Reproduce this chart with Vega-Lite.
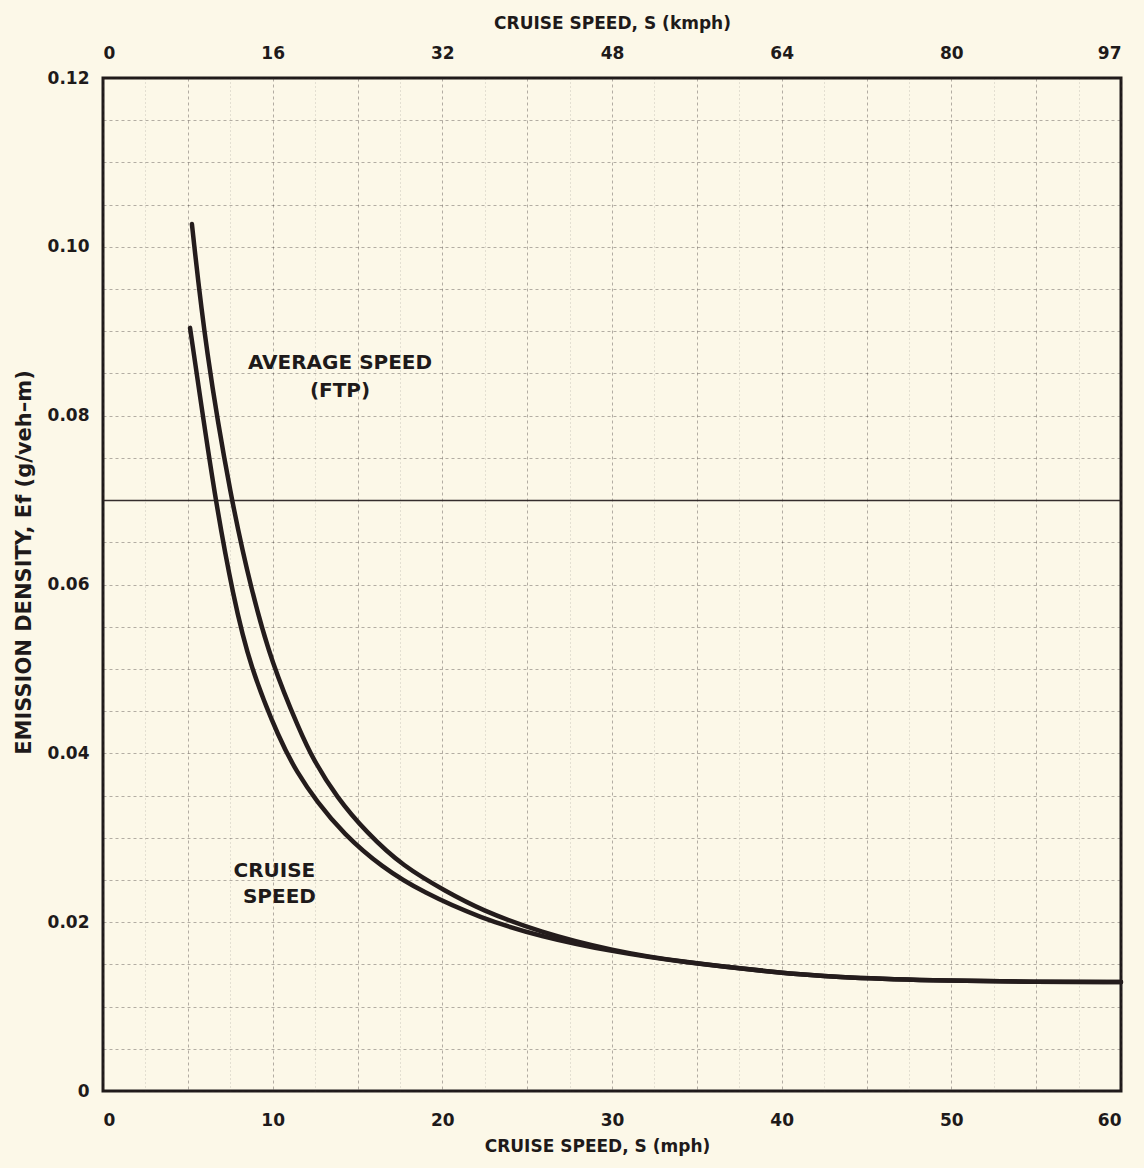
{
  "$schema": "https://vega.github.io/schema/vega-lite/v6.json",
  "width": 1018,
  "height": 1013,
  "autosize": "none",
  "padding": {"left": 103, "top": 78, "right": 23, "bottom": 77},
  "background": "#fcf8e8",
  "config": {
    "view": {"stroke": "#1f1a1a", "strokeWidth": 3},
    "axis": {
      "labelFont": "DejaVu Sans",
      "labelFontWeight": "bold",
      "labelFontSize": 17,
      "labelColor": "#1e1a1a",
      "titleFont": "DejaVu Sans",
      "titleFontWeight": "bold",
      "titleFontSize": 17,
      "titleColor": "#1e1a1a",
      "ticks": false,
      "domain": false
    },
    "text": {"font": "DejaVu Sans", "fontWeight": "bold", "fontSize": 20, "color": "#1e1a1a"}
  },
  "datasets": {
    "curves": [
      {"series": "AVERAGE SPEED (FTP)", "mph": 5.24, "ef": 0.1027},
      {"series": "AVERAGE SPEED (FTP)", "mph": 6.05, "ef": 0.0878},
      {"series": "AVERAGE SPEED (FTP)", "mph": 7.55, "ef": 0.07},
      {"series": "AVERAGE SPEED (FTP)", "mph": 8.76, "ef": 0.0592},
      {"series": "AVERAGE SPEED (FTP)", "mph": 9.94, "ef": 0.0507},
      {"series": "AVERAGE SPEED (FTP)", "mph": 11.61, "ef": 0.0426},
      {"series": "AVERAGE SPEED (FTP)", "mph": 12.38, "ef": 0.0393},
      {"series": "AVERAGE SPEED (FTP)", "mph": 13.77, "ef": 0.0348},
      {"series": "AVERAGE SPEED (FTP)", "mph": 15.54, "ef": 0.0306},
      {"series": "AVERAGE SPEED (FTP)", "mph": 17.68, "ef": 0.0266},
      {"series": "AVERAGE SPEED (FTP)", "mph": 20.26, "ef": 0.0236},
      {"series": "AVERAGE SPEED (FTP)", "mph": 22.22, "ef": 0.0215},
      {"series": "AVERAGE SPEED (FTP)", "mph": 25.76, "ef": 0.0188},
      {"series": "AVERAGE SPEED (FTP)", "mph": 30.06, "ef": 0.0166},
      {"series": "AVERAGE SPEED (FTP)", "mph": 34.0, "ef": 0.0153},
      {"series": "AVERAGE SPEED (FTP)", "mph": 39.9, "ef": 0.014},
      {"series": "AVERAGE SPEED (FTP)", "mph": 43.0, "ef": 0.0135},
      {"series": "AVERAGE SPEED (FTP)", "mph": 48.9, "ef": 0.0131},
      {"series": "AVERAGE SPEED (FTP)", "mph": 55.0, "ef": 0.0129},
      {"series": "AVERAGE SPEED (FTP)", "mph": 60.0, "ef": 0.0129},
      {"series": "CRUISE SPEED", "mph": 5.13, "ef": 0.0904},
      {"series": "CRUISE SPEED", "mph": 5.5, "ef": 0.0853},
      {"series": "CRUISE SPEED", "mph": 6.6, "ef": 0.0702},
      {"series": "CRUISE SPEED", "mph": 7.68, "ef": 0.0585},
      {"series": "CRUISE SPEED", "mph": 8.66, "ef": 0.0503},
      {"series": "CRUISE SPEED", "mph": 10.43, "ef": 0.0415},
      {"series": "CRUISE SPEED", "mph": 11.42, "ef": 0.0378},
      {"series": "CRUISE SPEED", "mph": 12.59, "ef": 0.0343},
      {"series": "CRUISE SPEED", "mph": 14.16, "ef": 0.0305},
      {"series": "CRUISE SPEED", "mph": 16.43, "ef": 0.0265},
      {"series": "CRUISE SPEED", "mph": 18.88, "ef": 0.0235},
      {"series": "CRUISE SPEED", "mph": 22.22, "ef": 0.0205},
      {"series": "CRUISE SPEED", "mph": 25.76, "ef": 0.0183},
      {"series": "CRUISE SPEED", "mph": 30.06, "ef": 0.0165},
      {"series": "CRUISE SPEED", "mph": 34.0, "ef": 0.0153},
      {"series": "CRUISE SPEED", "mph": 39.9, "ef": 0.014},
      {"series": "CRUISE SPEED", "mph": 43.0, "ef": 0.0135},
      {"series": "CRUISE SPEED", "mph": 48.9, "ef": 0.0131},
      {"series": "CRUISE SPEED", "mph": 55.0, "ef": 0.0129},
      {"series": "CRUISE SPEED", "mph": 60.0, "ef": 0.0129}
    ],
    "labels": [
      {"mph": 13.97, "ef": 0.0862, "label": "AVERAGE SPEED"},
      {"mph": 13.97, "ef": 0.0829, "label": "(FTP)"},
      {"mph": 10.1, "ef": 0.0261, "label": "CRUISE"},
      {"mph": 10.4, "ef": 0.023, "label": "SPEED"}
    ]
  },
  "layer": [
    {
      "data": {"name": "curves"},
      "mark": {"type": "line", "strokeWidth": 4.5, "color": "#241c1c", "interpolate": "basis", "strokeCap": "round"},
      "encoding": {
        "x": {
          "field": "mph", "type": "quantitative",
          "scale": {"domain": [0, 60], "nice": false, "zero": false},
          "axis": {
            "orient": "bottom",
            "values": [0, 2.5, 5, 7.5, 10, 12.5, 15, 17.5, 20, 22.5, 25, 27.5, 30, 32.5, 35, 37.5, 40, 42.5, 45, 47.5, 50, 52.5, 55, 57.5, 60],
            "labelExpr": "datum.value % 10 == 0 ? format(datum.value, 'd') : ''",
            "labelPadding": 21,
            "grid": true,
            "gridColor": "#3a3030",
            "gridOpacity": {"condition": {"test": "datum.value % 5 == 0", "value": 0.38}, "value": 0.25},
            "gridDash": {"condition": {"test": "datum.value % 5 == 0", "value": [3, 3]}, "value": [1, 3]},
            "gridWidth": 1,
            "title": "CRUISE SPEED, S  (mph)",
            "titleX": 494,
            "titlePadding": 10
          }
        },
        "y": {
          "field": "ef", "type": "quantitative",
          "scale": {"domain": [0, 0.12], "nice": false, "zero": false},
          "axis": {
            "orient": "left",
            "values": [0, 0.005, 0.01, 0.015, 0.02, 0.025, 0.03, 0.035, 0.04, 0.045, 0.05, 0.055, 0.06, 0.065, 0.07, 0.075, 0.08, 0.085, 0.09, 0.095, 0.1, 0.105, 0.11, 0.115, 0.12],
            "labelExpr": "round(datum.value * 1000) % 20 == 0 ? (datum.value == 0 ? '0' : format(datum.value, '.2f')) : ''",
            "labelPadding": 14,
            "grid": true,
            "gridColor": "#2a2222",
            "gridOpacity": {"condition": {"test": "abs(datum.value - 0.07) < 0.0001", "value": 0.95}, "value": 0.35},
            "gridDash": {"condition": {"test": "abs(datum.value - 0.07) < 0.0001", "value": []}, "value": [3, 3]},
            "gridWidth": {"condition": {"test": "abs(datum.value - 0.07) < 0.0001", "value": 1.6}, "value": 1},
            "title": "EMISSION DENSITY, Ef  (g/veh–m)",
            "titleFontSize": 21,
            "titleY": 484,
            "titlePadding": 13
          }
        },
        "detail": {"field": "series", "type": "nominal"}
      }
    },
    {
      "data": {"name": "labels"},
      "mark": {"type": "text", "align": "center", "baseline": "middle"},
      "encoding": {
        "x": {
          "field": "mph", "type": "quantitative",
          "scale": {"domain": [0, 60], "nice": false, "zero": false},
          "axis": {
            "orient": "top",
            "values": [0, 10, 20, 30, 40, 50, 60],
            "labelExpr": "datum.value == 60 ? '97' : format(datum.value * 1.6, 'd')",
            "labelPadding": 16,
            "grid": false,
            "title": "CRUISE SPEED, S  (kmph)",
            "titlePadding": 12
          }
        },
        "y": {
          "field": "ef", "type": "quantitative",
          "scale": {"domain": [0, 0.12], "nice": false, "zero": false},
          "axis": null
        },
        "text": {"field": "label"}
      }
    }
  ],
  "resolve": {"axis": {"x": "independent", "y": "independent"}}
}
